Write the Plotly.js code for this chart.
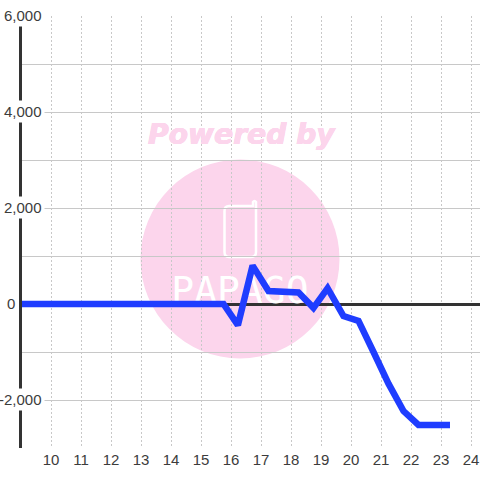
<!DOCTYPE html>
<html><head><meta charset="utf-8">
<script src="https://cdn.plot.ly/plotly-3.0.1.min.js"></script>
<style>html,body{margin:0;padding:0;background:#fff}</style></head>
<body><div id="c" style="width:480px;height:480px"></div>
<script>
const hours=[8.87,9.25,9.75,10.25,10.75,11.25,11.75,12.25,12.75,13.25,13.75,14.25,14.75,15.25,15.75,16.23,16.72,17.25,17.75,18.25,18.75,19.22,19.75,20.25,20.75,21.25,21.75,22.25,22.75,23.3];
const values=[0,0,0,0,0,0,0,0,0,0,0,0,0,0,0,-440,800,270,240,240,-80,330,-250,-350,-1000,-1660,-2230,-2520,-2520,-2520];
const yTickVals=[6000,4000,2000,0,-2000];
const yTickText=['6,000','4,000','2,000','0','-2,000'];
const xTicks=[10,11,12,13,14,15,16,17,18,19,20,21,22,23,24];
const L=22,T=16,R=480,B=448;
const px=v=>(v-L)/(R-L), py=v=>1-(v-T)/(B-T);
const pink='#fcd5ec', ink='#3c3c3c';
const shapes=[
 {type:'circle',xref:'paper',yref:'paper',x0:px(140.5),x1:px(339.5),y0:py(358.5),y1:py(159.5),fillcolor:pink,line:{width:0},layer:'below'},
 {type:'path',xref:'paper',yref:'paper',layer:'below',line:{color:'#fff',width:2.5},
  path:`M${px(229)} ${py(206)} L${px(253)} ${py(206)} L${px(253)} ${py(202)} Q${px(254.5)} ${py(200)} ${px(256)} ${py(202)} L${px(256)} ${py(252)} Q${px(256)} ${py(257)} ${px(251)} ${py(257)} L${px(229)} ${py(257)} Q${px(224.5)} ${py(257)} ${px(224.5)} ${py(252)} L${px(224.5)} ${py(211)} Q${px(224.5)} ${py(206)} ${px(229)} ${py(206)} Z`}
];
const annotations=yTickVals.map((v,i)=>({xref:'paper',yref:'y',x:v===0?px(18):px(45),y:v,yshift:1,xanchor:'right',yanchor:'middle',text:yTickText[i],showarrow:false,bgcolor:v===0?'rgba(0,0,0,0)':'#fff',font:{family:'Liberation Sans',size:15,color:ink},borderpad:2}));
annotations.push({xref:'paper',yref:'paper',x:px(241.5),y:py(134),text:'<b><i>Powered by</i></b>',showarrow:false,font:{family:'DejaVu Sans',size:28.2,color:pink,shadow:`0.4px 0 0 ${pink}, -0.4px 0 0 ${pink}, 0 0.4px 0 ${pink}, 0 -0.4px 0 ${pink}`},xanchor:'center',yanchor:'middle'});
const data=[
 {x:[16.3],y:[210],mode:'text',text:['PAPAGO'],textposition:'middle center',textfont:{family:'DejaVu Sans Mono',size:38,color:'#fff'},hoverinfo:'skip'},
 {x:hours,y:values,mode:'lines',cliponaxis:false,line:{color:'#1f3dff',width:6.5,shape:'linear'},hoverinfo:'skip'}
];
const layout={width:480,height:480,margin:{l:L,r:480-R,t:T,b:480-B},paper_bgcolor:'rgba(0,0,0,0)',plot_bgcolor:'rgba(0,0,0,0)',showlegend:false,shapes,annotations,
 xaxis:{range:[10-(51-L)/30,10+(R-51)/30],tickvals:xTicks,showgrid:true,griddash:'2px,2px',gridcolor:'#c8c8c8',gridwidth:1,zeroline:false,showline:false,ticks:'',ticklabelstandoff:1,tickfont:{family:'Liberation Sans',size:15,color:ink}},
 yaxis:{range:[-3000,6000],dtick:1000,tick0:0,showgrid:true,gridcolor:'#c8c8c8',gridwidth:1,zeroline:true,zerolinecolor:'#333',zerolinewidth:3,showline:true,linecolor:'#333',linewidth:3,layer:'below traces',showticklabels:false,ticks:''}};
Plotly.newPlot('c',data,layout,{displayModeBar:false,staticPlot:true});
</script></body></html>
